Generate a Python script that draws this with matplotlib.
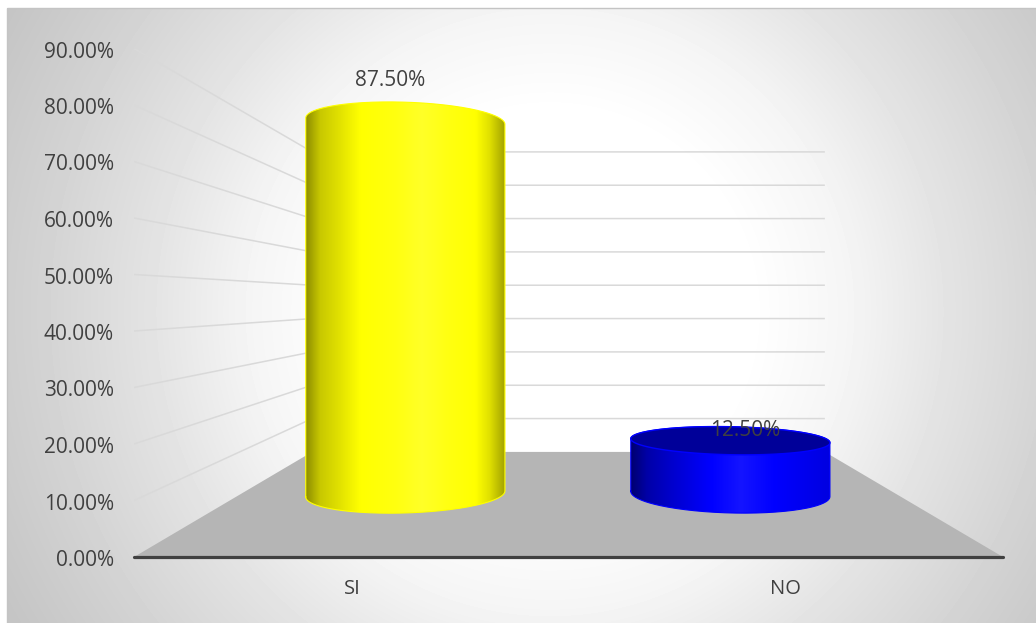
import numpy as np
import matplotlib
matplotlib.use("Agg")
import matplotlib.pyplot as plt
from matplotlib.colors import LinearSegmentedColormap
from matplotlib.patches import Polygon, Rectangle
from matplotlib.transforms import ScaledTranslation

categories = ["SI", "NO"]
values = [0.875, 0.125]
value_labels = ["87.50%", "12.50%"]
yticks = [0.0, 0.1, 0.2, 0.3, 0.4, 0.5, 0.6, 0.7, 0.8, 0.9]
ytick_labels = ["0.00%", "10.00%", "20.00%", "30.00%", "40.00%",
                "50.00%", "60.00%", "70.00%", "80.00%", "90.00%"]

W, H = 1036, 623
TXT = "#404040"
plt.rcParams["font.family"] = "Open Sans"

fig = plt.figure(figsize=(W / 100, H / 100), dpi=100, facecolor="white")

# background panel with its radial gradient
bg = fig.add_axes([0, 0, 1, 1], zorder=0)
bg.set_xlim(0, W); bg.set_ylim(H, 0); bg.axis("off")
xx, yy = np.meshgrid(np.arange(W) + .5, np.arange(H) + .5)
r = np.hypot(xx - 550, yy - 312)
shade = np.interp(r, [0, 200, 300, 400, 520, 620], [1, 1, 0.96, 0.89, 0.82, 0.77])
im = bg.imshow(shade, cmap="gray", vmin=0, vmax=1, extent=(0, W, H, 0), aspect="auto", zorder=1)
panel = Rectangle((7, 8), W - 7 + 5, H - 8 + 5, fc="none", ec="#c4c4c4", lw=1.0, zorder=2)
bg.add_patch(panel)
im.set_clip_path(panel)

# chart axes: x runs 0..1 along the front edge, y is the value axis
L, R, Y0, Y90 = 134, 1003, 557, 48.5
ax = fig.add_axes([L / W, 1 - Y0 / H, (R - L) / W, (Y0 - Y90) / H], zorder=1)
ax.patch.set_alpha(0)
ax.set_xlim(0, 1); ax.set_ylim(0, 0.9)
for s in ("top", "left", "right"):
    ax.spines[s].set_visible(False)
ax.spines["bottom"].set_color(TXT)
ax.spines["bottom"].set_linewidth(2.3)
ax.spines["bottom"].set_capstyle("round")
ax.spines["bottom"].set_zorder(6)
ax.set_yticks(yticks, ytick_labels)
ax.set_xticks([0.2515, 0.75], categories)
ax.tick_params(axis="y", length=0, pad=14.5, labelsize=15, labelcolor=TXT)
ax.tick_params(axis="x", length=0, pad=16, labelsize=14.5, labelcolor=TXT)
nudge = ScaledTranslation(0, -1 / 100, fig.dpi_scale_trans)
for lab in ax.get_yticklabels():
    lab.set_transform(lab.get_transform() + nudge)


def project(u, v, d):
    """Simple 3-D projection: u across, v up, d into the chart."""
    s = 1 - 0.41 * np.asarray(d)
    return 0.5 + (np.asarray(u) - 0.5) * s, np.asarray(v) * s + 0.186 * np.asarray(d)


# floor
fx, fy = project([0, 1, 1, 0], [0, 0, 0, 0], [0, 0, 1, 1])
ax.add_patch(Polygon(np.c_[fx, fy], fc="#b5b5b5", ec="none", zorder=1))

# gridlines on side wall and back wall
for v in yticks[1:]:
    gx, gy = project([0, 0, 1], [v, v, v], [0, 1, 1])
    ax.plot(gx, gy, color="#d9d9d9", lw=1.1, zorder=2, solid_capstyle="butt")

yellow_cm = LinearSegmentedColormap.from_list("yl", [
    (0.00, "#8f8f00"), (0.07, "#c8c800"), (0.15, "#dddd00"), (0.27, "#ffff00"),
    (0.45, "#ffff10"), (0.58, "#ffff28"), (0.72, "#ffff10"), (0.85, "#ffff00"),
    (0.92, "#e0e000"), (1.00, "#a0a000")])
blue_cm = LinearSegmentedColormap.from_list("bl", [
    (0.00, "#000070"), (0.08, "#0000a8"), (0.20, "#0000cc"), (0.40, "#0000ff"),
    (0.55, "#1414ff"), (0.72, "#0000ff"), (1.00, "#0000e0")])
styles = [(yellow_cm, None, "#ffff00"), (blue_cm, "#000099", "#0000ff")]

DEPTH = 0.6
HALF_W = 0.152
centers = [0.251, 0.747]
PX = 0.9 / (Y0 - Y90)          # one pixel in value units
radii_top = [19 * PX, 14 * PX]
radius_base = 19 * PX
tilt_top = [-3.2 * PX, -2.0 * PX]
tilt_base = [3.0 * PX, -2.6 * PX]
theta = np.linspace(0, 2 * np.pi, 241)


def ring(uc, v, ry, tilt):
    """Points of a cylinder end, with its perspective tilt."""
    xc, yc = project(uc, v, DEPTH)
    s = 1 - 0.41 * DEPTH
    return xc + HALF_W * s * np.cos(theta), yc + ry * np.sin(theta) + tilt * np.cos(theta)


for i, (uc, v, lab) in enumerate(zip(centers, values, value_labels)):
    cm, cap, edge = styles[i]
    bx, by = ring(uc, 0.0, radius_base, tilt_base[i])
    tx, ty = ring(uc, v, radii_top[i], tilt_top[i])
    far = theta <= np.pi
    near = theta >= np.pi
    front = np.c_[bx[near], by[near]]
    rear = np.c_[tx[far], ty[far]]
    outline = np.r_[front[np.argsort(front[:, 0])], rear[np.argsort(-rear[:, 0])]]
    clip = Polygon(outline, closed=True, transform=ax.transData, fc="none", ec="none")
    ax.add_patch(clip)
    grad = np.linspace(0, 1, 256)[None, :]
    im2 = ax.imshow(grad, cmap=cm, extent=(bx.min(), bx.max(), 0, 0.9), aspect="auto", zorder=3)
    im2.set_clip_path(clip)
    ax.plot(np.r_[outline[:, 0], outline[0, 0]], np.r_[outline[:, 1], outline[0, 1]],
            color=edge, lw=0.8, zorder=4)
    if cap:
        ax.fill(tx, ty, fc=cap, ec=edge, lw=1.0, zorder=4)
    lx, ly = project(uc, v, 0.43)
    ax.annotate(lab, (lx, ly), xytext=(0, 17), textcoords="offset points",
                ha="center", va="center", fontsize=15, color=TXT, zorder=7)

ax.set_xlim(0, 1); ax.set_ylim(0, 0.9)
fig.savefig("out.png", dpi=100)
